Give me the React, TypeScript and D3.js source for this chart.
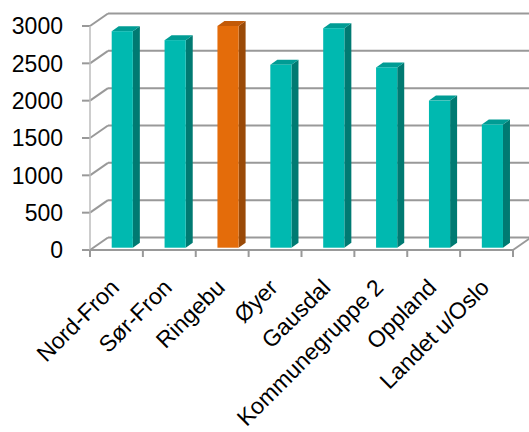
import React from "react";
import * as d3 from "d3";

const categories = ["Nord-Fron", "Sør-Fron", "Ringebu", "Øyer", "Gausdal", "Kommunegruppe 2", "Oppland", "Landet u/Oslo"];
const values = [2900, 2780, 2970, 2450, 2940, 2415, 1970, 1650];
const highlight = ["Ringebu"];
const yTicks = [0, 500, 1000, 1500, 2000, 2500, 3000];

const W = 529, H = 432;
const x0 = 90, x1 = 513;
const yBase = 250, yTop = 26;
const depth = { dx: 18, dy: -12.5 };
const barOff = { dx: 21.7, dy: -2.3 };
const barSide = { dx: 7, dy: -5 };
const font = "'Liberation Sans', Arial, sans-serif";

export default function App() {
  const x = d3.scaleBand<string>().domain(categories).range([x0, x1]).paddingInner(0).paddingOuter(0);
  const y = d3.scaleLinear().domain([0, 3000]).range([yBase, yTop]);
  const barW = x.bandwidth() * 0.4;
  const grid = "#999999";
  const tealF = "#00B9B0", tealS = "#007A72", tealT = "#009C94";
  const orF = "#E46C0A", orS = "#9A4A08", orT = "#C25A08";

  return (
    <svg width={W} height={H} style={{ position: "absolute", left: 0, top: 0, background: "#fff" }}>
      {yTicks.map((t) => (
        <g key={t}>
          <line x1={x0} y1={y(t)} x2={x0 + depth.dx} y2={y(t) + depth.dy} stroke={grid} strokeWidth={2} />
          <line x1={x0 + depth.dx} y1={y(t) + depth.dy} x2={x1 + depth.dx} y2={y(t) + depth.dy} stroke={grid} strokeWidth={2} />
          <line x1={x0 - 8} y1={y(t)} x2={x0} y2={y(t)} stroke={grid} strokeWidth={2} />
          <text x={63} y={y(t)} dy="0.36em" textAnchor="end" fontFamily={font} fontSize={23} fill="#000">{t}</text>
        </g>
      ))}
      <line x1={x0} y1={y(0)} x2={x0} y2={y(3000)} stroke="#BDBDBD" strokeWidth={1.5} />
      <line x1={x0} y1={y(0)} x2={x1} y2={y(0)} stroke={grid} strokeWidth={2} />
      <line x1={x1} y1={y(0)} x2={x1 + depth.dx} y2={y(0) + depth.dy} stroke={grid} strokeWidth={2} />
      {d3.range(categories.length + 1).map((i) => {
        const xx = x0 + i * x.bandwidth();
        return <line key={i} x1={xx} y1={y(0)} x2={xx} y2={y(0) + 7} stroke={grid} strokeWidth={2} />;
      })}
      {categories.map((c, i) => {
        const v = values[i];
        const hl = highlight.includes(c);
        const bx = (x(c) as number) + barOff.dx;
        const by0 = y(0) + barOff.dy;
        const by1 = y(v) + barOff.dy;
        const f = hl ? orF : tealF, s = hl ? orS : tealS, tp = hl ? orT : tealT;
        const top = `M${bx},${by1} L${bx + barSide.dx},${by1 + barSide.dy} L${bx + barW + barSide.dx},${by1 + barSide.dy} L${bx + barW},${by1} Z`;
        const side = `M${bx + barW},${by1} L${bx + barW + barSide.dx},${by1 + barSide.dy} L${bx + barW + barSide.dx},${by0 + barSide.dy} L${bx + barW},${by0} Z`;
        return (
          <g key={c}>
            <path d={side} fill={s} />
            <path d={top} fill={tp} />
            <rect x={bx} y={by1} width={barW} height={by0 - by1} fill={f} />
          </g>
        );
      })}
      {categories.map((c) => {
        const cx = (x(c) as number) + x.bandwidth() / 2;
        return (
          <text key={c} transform={`translate(${cx + 4},${289}) rotate(-45)`} textAnchor="end" fontFamily={font} fontSize={23} fill="#000">{c}</text>
        );
      })}
    </svg>
  );
}
